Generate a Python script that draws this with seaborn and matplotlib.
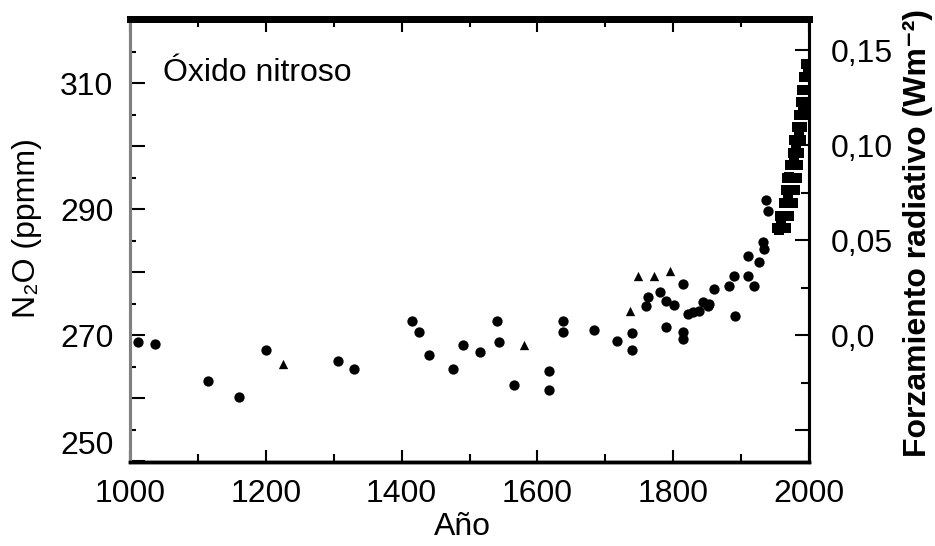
import matplotlib
matplotlib.use("Agg")
import matplotlib.pyplot as plt
import pandas as pd
import seaborn as sns
from matplotlib.ticker import FixedLocator, MultipleLocator

# ice core / firn samples (round markers)
year_circ = [1012, 1037, 1115, 1161, 1201, 1307, 1330, 1416, 1426, 1440, 1476, 1491, 1516,
             1541, 1543, 1565, 1617, 1617, 1637, 1637, 1683, 1717, 1740, 1740, 1760, 1763,
             1780, 1789, 1789, 1801, 1814, 1814, 1814, 1822, 1829, 1838, 1844, 1851, 1853,
             1860, 1882, 1889, 1891, 1910, 1910, 1919, 1926, 1932, 1934, 1937, 1940]
n2o_circ = [269.0, 268.7, 262.8, 260.2, 267.6, 266.0, 264.7, 272.3, 270.6, 266.9, 264.7, 268.4, 267.4,
            272.3, 269.0, 262.1, 264.4, 261.3, 272.3, 270.6, 270.9, 269.1, 270.3, 267.6, 274.7, 276.1,
            276.9, 275.5, 271.4, 274.8, 278.1, 270.6, 269.5, 273.4, 273.7, 273.9, 275.3, 274.7, 275.0,
            277.4, 277.8, 279.4, 273.1, 279.4, 282.6, 277.8, 281.6, 284.8, 283.7, 291.5, 289.7]

# samples drawn as small triangles
year_tri = [1226, 1581, 1737, 1748, 1771, 1796]
n2o_tri = [265.5, 268.4, 273.9, 279.4, 279.4, 280.2]

# modern record (dense band)
year_modern = [1953, 1966, 1957, 1970, 1963, 1976, 1966, 1980, 1968, 1982, 1972, 1984, 1976, 1986,
               1978, 1988, 1982, 1990, 1986, 1993, 1988, 1995, 1990, 1997, 1993, 1998, 1996, 1999,
               1956, 1959, 1969, 1971, 1978, 1981, 1985, 1991, 1996, 1999]
n2o_modern = [287, 287, 289, 289, 291, 291, 293, 293, 295, 295, 297, 297, 299, 299,
              301, 301, 303, 303, 305, 305, 307, 307, 309, 309, 311, 311, 313, 313,
              286.8, 288.4, 292.0, 295.2, 297.4, 299.9, 302.6, 305.7, 308.9, 312.1]

left_ticks = [250, 260, 270, 280, 290, 300, 310, 320]
left_labels = ["250", "", "270", "", "290", "", "310", ""]
right_ticks = [-0.05, 0.0, 0.05, 0.10, 0.15]
right_labels = ["", "0,0", "0,05", "0,10", "0,15"]
right_minor = [-0.025, 0.025, 0.075, 0.125]

sns.set_theme(style="white")
plt.rcParams["font.family"] = ["Liberation Sans Narrow", "Liberation Sans", "DejaVu Sans"]
plt.rcParams["text.color"] = "black"
plt.rcParams["axes.labelcolor"] = "black"
plt.rcParams["xtick.color"] = "black"
plt.rcParams["ytick.color"] = "black"

fig, ax = plt.subplots(figsize=(9.35, 5.46), dpi=100)
fig.subplots_adjust(left=130 / 935, right=809 / 935, bottom=1 - 462 / 546, top=1 - 18.5 / 546)

df_circ = pd.DataFrame({"year": year_circ, "n2o": n2o_circ})
df_tri = pd.DataFrame({"year": year_tri, "n2o": n2o_tri})
df_mod = pd.DataFrame({"year": year_modern, "n2o": n2o_modern})
sns.scatterplot(data=df_circ, x="year", y="n2o", ax=ax, color="black", marker="o", s=55, linewidth=0)
sns.scatterplot(data=df_tri, x="year", y="n2o", ax=ax, color="black", marker="^", s=45, linewidth=0)
sns.scatterplot(data=df_mod, x="year", y="n2o", ax=ax, color="black", marker="s", s=60, linewidth=0)

ax.set_xlim(1000, 2000)
ax.set_ylim(249.9, 320.3)
ax.xaxis.set_major_locator(MultipleLocator(200))
ax.xaxis.set_minor_locator(MultipleLocator(100))
ax.yaxis.set_major_locator(FixedLocator(left_ticks))
ax.yaxis.set_minor_locator(MultipleLocator(5))
ax.set_yticklabels(left_labels)
# the lowest label sits a little above its tick in the original
ax.get_yticklabels()[0].set_va("bottom")

ax.tick_params(axis="x", which="both", direction="in", top=True, bottom=True, width=1.5,
               color="black", labelsize=23, pad=12)
ax.tick_params(axis="x", which="major", length=9)
ax.tick_params(axis="x", which="minor", length=6)
ax.tick_params(axis="y", which="both", direction="in", left=True, right=False, width=1.5,
               color="black", labelsize=23, pad=12)
ax.tick_params(axis="y", which="major", length=11)
ax.tick_params(axis="y", which="minor", length=4)

ax.set_xlabel("Año", fontsize=23)
ax.xaxis.set_label_coords(0.489, -0.112)
ax.set_ylabel("N₂O (ppmm)", fontsize=23)
ax.yaxis.set_label_coords(-0.130, 0.527)

ax.text(0.049, 0.860, "Óxido nitroso", transform=ax.transAxes, fontsize=23, va="baseline", ha="left")

# radiative forcing scale on the right
ax2 = ax.twinx()
ax2.set_ylim(-0.0668, 0.1668)
ax2.yaxis.set_major_locator(FixedLocator(right_ticks))
ax2.yaxis.set_minor_locator(FixedLocator(right_minor))
ax2.set_yticklabels(right_labels)
ax2.tick_params(axis="y", which="both", direction="in", right=True, left=False, width=1.5,
                color="black", labelsize=23, pad=16)
ax2.tick_params(axis="y", which="major", length=10)
ax2.tick_params(axis="y", which="minor", length=6)
ax2.set_ylabel("Forzamiento radiativo (Wm⁻²)", fontsize=23, fontweight="bold")
ax2.yaxis.set_label_coords(1.138, 0.516)

for a in (ax, ax2):
    a.spines["top"].set_linewidth(5)
    a.spines["top"].set_color("black")
    a.spines["bottom"].set_linewidth(2.5)
    a.spines["bottom"].set_color("black")
    a.spines["right"].set_linewidth(2.2)
    a.spines["right"].set_color("black")
    a.spines["left"].set_linewidth(2.2)
    a.spines["left"].set_color("#808080")

fig.savefig("out.png", dpi=100)
